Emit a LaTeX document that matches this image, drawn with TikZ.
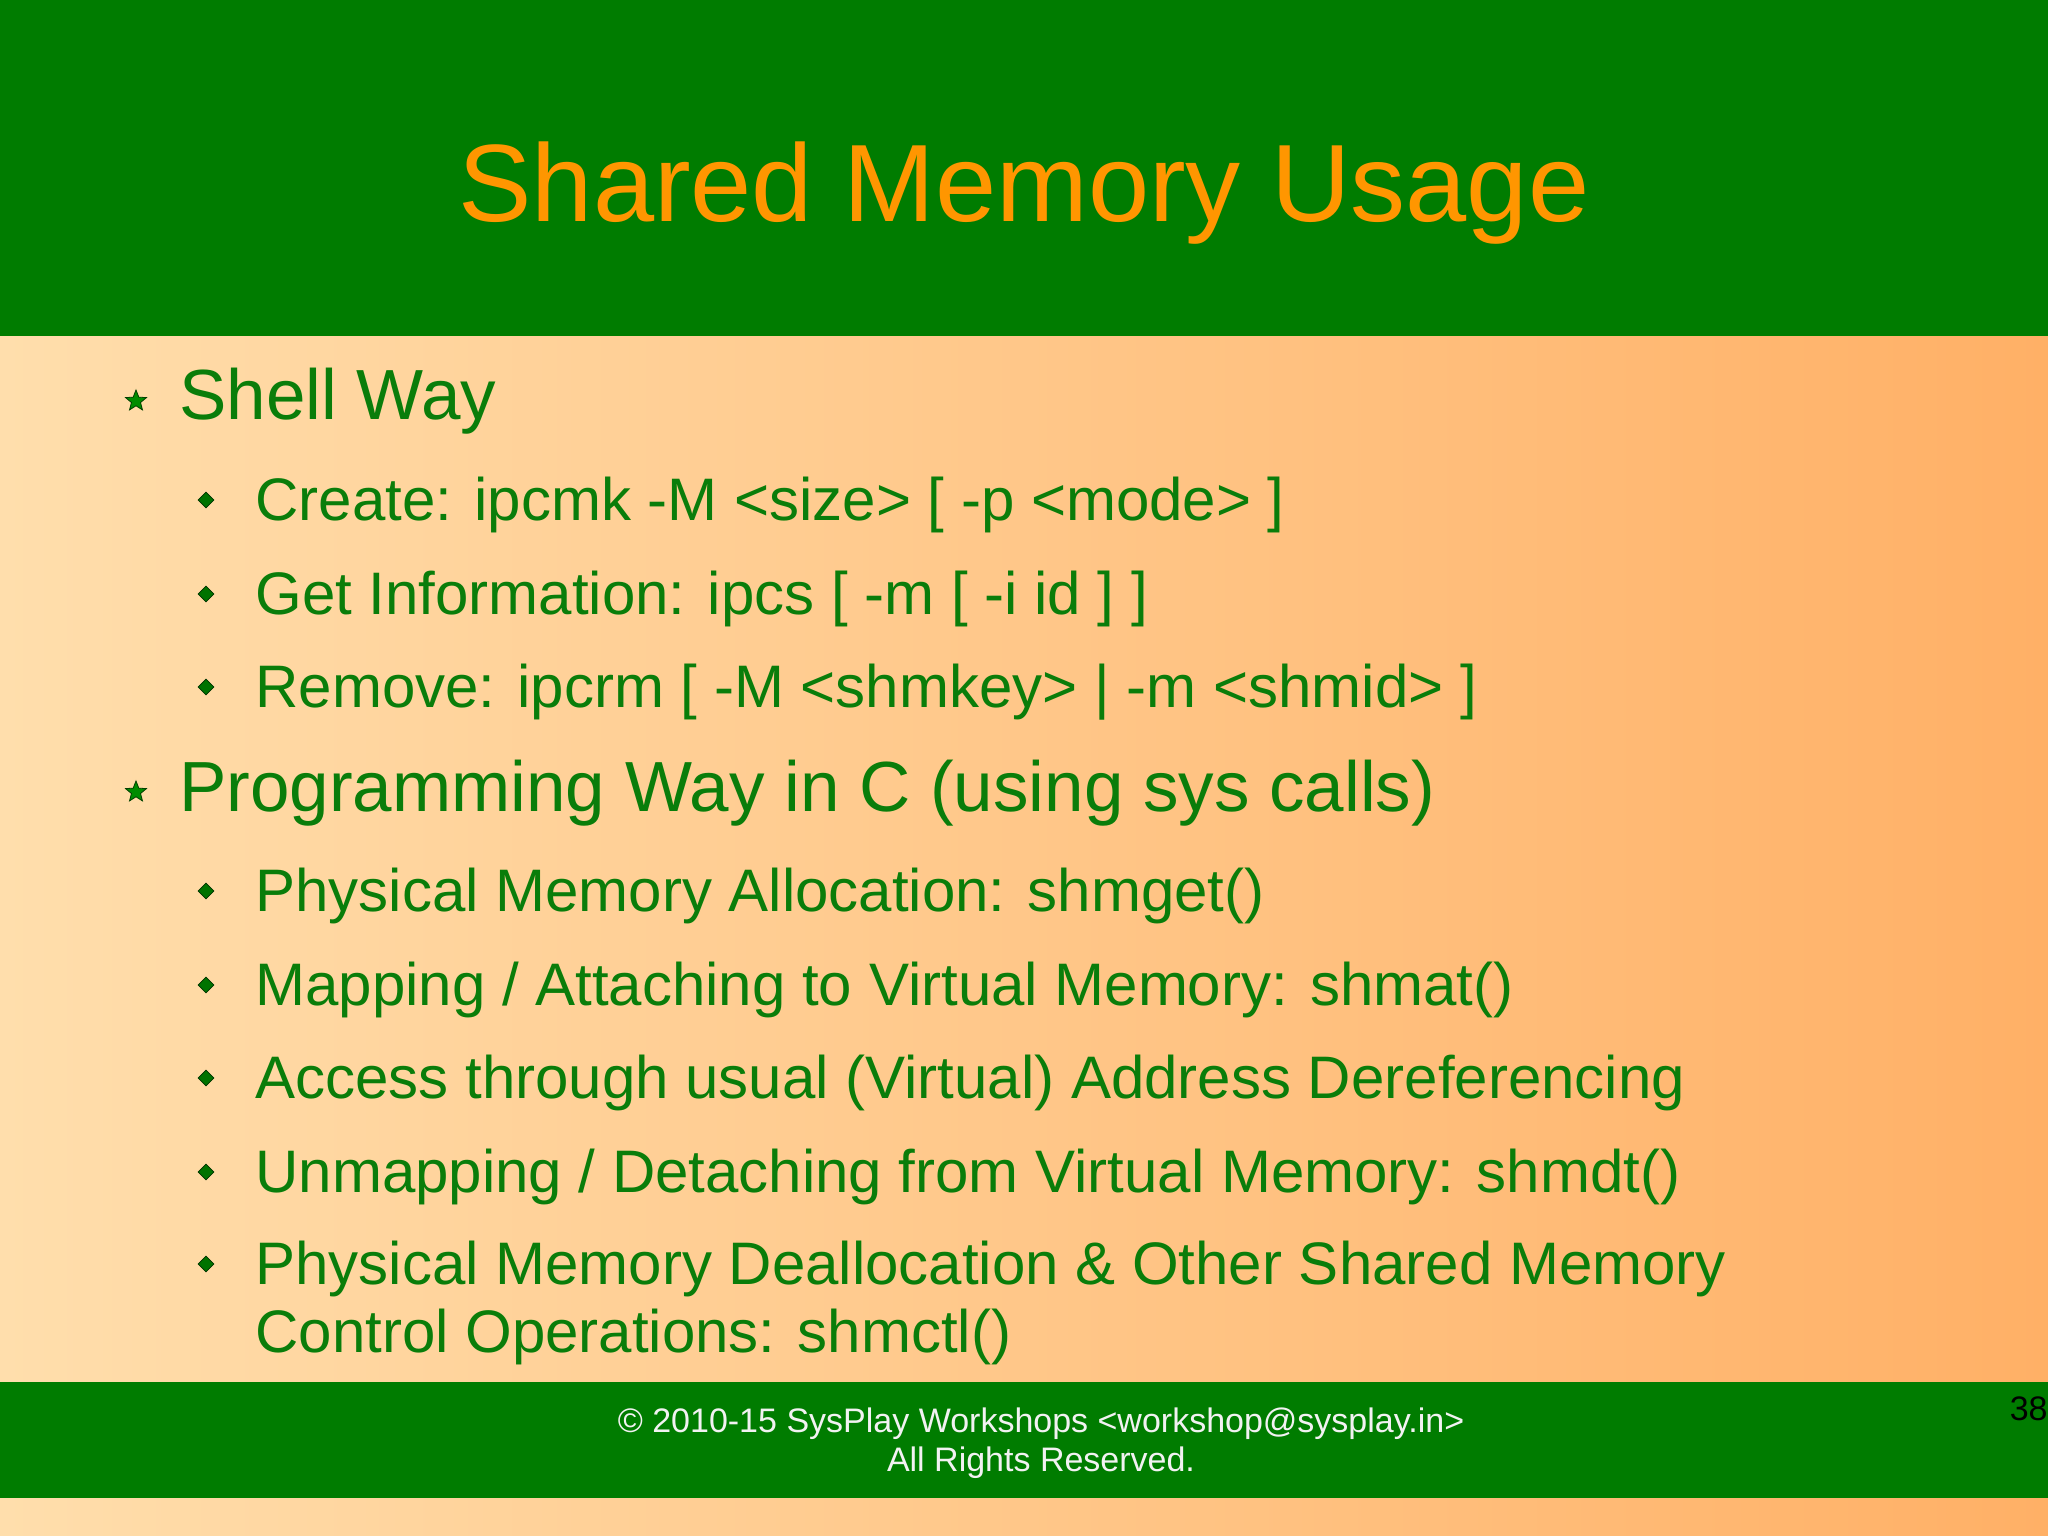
\documentclass[tikz,border=0pt]{standalone}
\usepackage{fontspec}
\setmainfont{Liberation Sans}
\usetikzlibrary{shapes.geometric}
\definecolor{hdr}{RGB}{0,124,0}
\definecolor{ttl}{RGB}{255,150,0}
\definecolor{txt}{RGB}{10,125,10}
\definecolor{peachA}{RGB}{255,222,172}
\definecolor{peachB}{RGB}{255,176,102}
\begin{document}
\begin{tikzpicture}[x=0.5pt,y=-0.5pt,
  lone/.style={anchor=west,text=txt,font=\fontsize{35.5}{40}\selectfont,inner sep=0},
  ltwo/.style={anchor=west,text=txt,font=\fontsize{30}{34}\selectfont,inner sep=0},
  starb/.style={star,star points=5,star point ratio=2.3,fill=green!55!black,draw=green!25!black,line width=0.4pt,minimum size=11pt,inner sep=0},
  diab/.style={diamond,fill=green!45!black,draw=green!20!black,line width=0.3pt,minimum size=8pt,inner sep=0}]
\useasboundingbox (0,0) rectangle (2048,1535);
\shade[left color=peachA,right color=peachB] (0,0) rectangle (2048,1535);
\fill[hdr] (0,0) rectangle (2048,336);
\fill[hdr] (0,1382) rectangle (2048,1498);
\node[text=ttl,font=\fontsize{55}{60}\selectfont] (title) at (1024,193) {Shared Memory Usage};
\node[starb] (s1) at (136,401) {};
\node[lone] (t1) at (179,401) {Shell Way};
\node[diab] (d1) at (206,500) {}; \node[ltwo] (t2) at (255,505) {Create: ipcmk -M <size> [ -p <mode> ]};
\node[diab] (d2) at (206,594) {}; \node[ltwo] (t3) at (255,599) {Get Information: ipcs [ -m [ -i id ] ]};
\node[diab] (d3) at (206,687) {}; \node[ltwo] (t4) at (255,692) {Remove: ipcrm [ -M <shmkey> | -m <shmid> ]};
\node[starb] (s2) at (136,792) {};
\node[lone] (t5) at (179,793) {Programming Way in C (using sys calls)};
\node[diab] (d4) at (206,891) {}; \node[ltwo] (t6) at (255,896) {Physical Memory Allocation: shmget()};
\node[diab] (d5) at (206,985) {}; \node[ltwo] (t7) at (255,990) {Mapping / Attaching to Virtual Memory: shmat()};
\node[diab] (d6) at (206,1078) {}; \node[ltwo] (t8) at (255,1083) {Access through usual (Virtual) Address Dereferencing};
\node[diab] (d7) at (206,1172) {}; \node[ltwo] (t9) at (255,1177) {Unmapping / Detaching from Virtual Memory: shmdt()};
\node[diab] (d8) at (206,1264) {}; \node[ltwo] (t10) at (255,1269) {Physical Memory Deallocation \& Other Shared Memory};
\node[ltwo] (t11) at (255,1337) {Control Operations: shmctl()};
\node[text=white!90!gray,font=\fontsize{17}{20}\selectfont] (f1) at (1041,1424) {© 2010-15 SysPlay Workshops <workshop@sysplay.in>};
\node[text=white!90!gray,font=\fontsize{17}{20}\selectfont] (f2) at (1041,1463) {All Rights Reserved.};
\node[anchor=east,text=black,font=\fontsize{17}{20}\selectfont,inner sep=0] (pg) at (2048,1409) {38};
\end{tikzpicture}
\end{document}
